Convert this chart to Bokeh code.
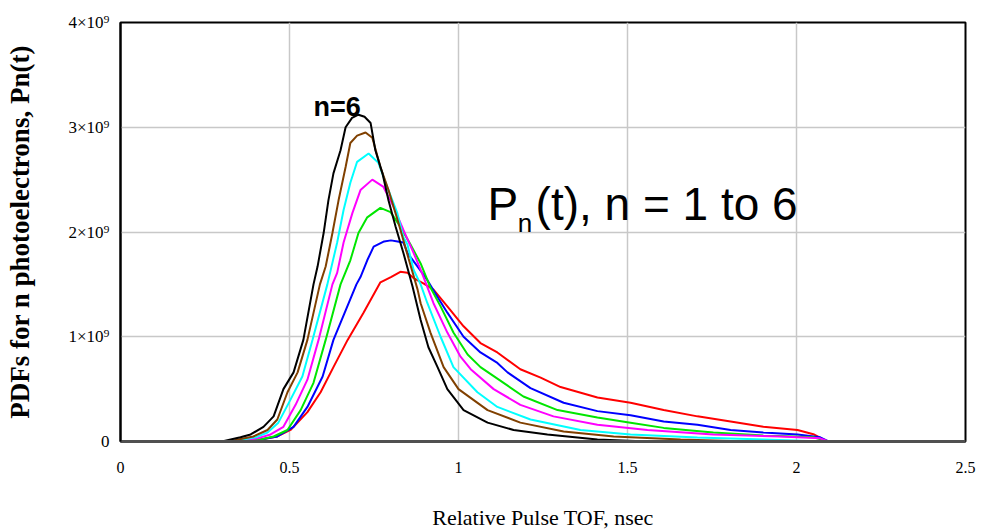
from bokeh.plotting import figure
from bokeh.models import Label, FixedTicker, Range1d
from bokeh.embed import file_html
from bokeh.resources import INLINE

# ---- data (y in units of 1e9) ----
SCALE = 1e9

red_t = [0, 0.37, 0.414, 0.464, 0.503, 0.553, 0.592, 0.630, 0.672, 0.719, 0.769, 0.80, 0.828, 0.849, 0.867, 0.896, 0.926, 0.967, 1.015, 1.065, 1.115, 1.183, 1.243, 1.302, 1.411, 1.509, 1.607, 1.707, 1.805, 1.902, 2.003, 2.05, 2.09]
red_y = [0, 0, 0.02, 0.048, 0.11, 0.28, 0.47, 0.71, 0.97, 1.23, 1.52, 1.57, 1.62, 1.61, 1.56, 1.51, 1.45, 1.29, 1.10, 0.94, 0.85, 0.69, 0.61, 0.52, 0.42, 0.37, 0.30, 0.24, 0.19, 0.14, 0.11, 0.07, 0]

blue_t = [0, 0.35, 0.414, 0.464, 0.512, 0.553, 0.598, 0.630, 0.698, 0.710, 0.730, 0.749, 0.78, 0.80, 0.82, 0.837, 0.849, 0.879, 0.908, 0.938, 0.967, 1.015, 1.065, 1.115, 1.145, 1.213, 1.311, 1.411, 1.509, 1.607, 1.707, 1.805, 1.902, 2.003, 2.07, 2.095]
blue_y = [0, 0, 0.02, 0.048, 0.14, 0.33, 0.62, 0.97, 1.50, 1.57, 1.73, 1.86, 1.91, 1.92, 1.91, 1.90, 1.80, 1.67, 1.54, 1.38, 1.23, 1.0, 0.85, 0.75, 0.66, 0.51, 0.37, 0.29, 0.25, 0.19, 0.16, 0.11, 0.085, 0.067, 0.04, 0]

green_t = [0, 0.35, 0.414, 0.453, 0.494, 0.533, 0.571, 0.607, 0.651, 0.680, 0.704, 0.730, 0.769, 0.799, 0.828, 0.858, 0.888, 0.917, 0.947, 0.985, 1.027, 1.065, 1.115, 1.192, 1.293, 1.411, 1.509, 1.607, 1.754, 1.902, 2.05, 2.095]
green_y = [0, 0, 0.02, 0.048, 0.11, 0.30, 0.56, 0.97, 1.50, 1.73, 1.99, 2.14, 2.23, 2.19, 2.05, 1.88, 1.70, 1.47, 1.29, 1.04, 0.83, 0.71, 0.60, 0.43, 0.30, 0.23, 0.18, 0.13, 0.086, 0.057, 0.04, 0]

magenta_t = [0, 0.34, 0.405, 0.444, 0.482, 0.518, 0.553, 0.586, 0.627, 0.641, 0.660, 0.686, 0.710, 0.745, 0.778, 0.808, 0.837, 0.867, 0.888, 0.926, 0.967, 1.006, 1.036, 1.104, 1.183, 1.281, 1.411, 1.559, 1.754, 1.953, 2.07, 2.095]
magenta_y = [0, 0, 0.03, 0.067, 0.14, 0.35, 0.59, 0.97, 1.50, 1.61, 1.90, 2.18, 2.40, 2.50, 2.43, 2.24, 2.02, 1.80, 1.64, 1.32, 1.04, 0.81, 0.69, 0.50, 0.35, 0.24, 0.16, 0.11, 0.067, 0.048, 0.03, 0]

cyan_t = [0, 0.33, 0.40, 0.435, 0.467, 0.503, 0.538, 0.568, 0.612, 0.641, 0.66, 0.68, 0.70, 0.734, 0.763, 0.789, 0.819, 0.837, 0.849, 0.867, 0.888, 0.908, 0.947, 0.985, 1.056, 1.115, 1.213, 1.361, 1.509, 1.707, 1.902, 2.08]
cyan_y = [0, 0, 0.04, 0.086, 0.18, 0.40, 0.62, 0.97, 1.50, 1.90, 2.21, 2.47, 2.67, 2.75, 2.66, 2.43, 2.18, 1.95, 1.88, 1.64, 1.50, 1.32, 1.0, 0.71, 0.47, 0.33, 0.21, 0.11, 0.067, 0.038, 0.02, 0]

brown_t = [0, 0.32, 0.393, 0.435, 0.464, 0.494, 0.524, 0.553, 0.59, 0.607, 0.627, 0.645, 0.666, 0.680, 0.700, 0.725, 0.745, 0.769, 0.793, 0.822, 0.852, 0.879, 0.888, 0.917, 0.956, 1.0, 1.086, 1.183, 1.311, 1.459, 1.657, 1.855, 2.1]
brown_y = [0, 0, 0.048, 0.11, 0.21, 0.47, 0.66, 0.97, 1.50, 1.67, 1.99, 2.30, 2.62, 2.85, 2.92, 2.95, 2.90, 2.62, 2.40, 2.09, 1.75, 1.45, 1.32, 1.04, 0.71, 0.50, 0.30, 0.18, 0.095, 0.048, 0.02, 0, 0]

black_t = [0, 0.30, 0.355, 0.385, 0.423, 0.453, 0.482, 0.512, 0.541, 0.571, 0.583, 0.601, 0.615, 0.630, 0.651, 0.666, 0.685, 0.704, 0.722, 0.740, 0.754, 0.775, 0.793, 0.814, 0.837, 0.864, 0.888, 0.911, 0.938, 0.967, 1.015, 1.086, 1.163, 1.263, 1.411, 1.56, 2.1]
black_y = [0, 0, 0.04, 0.067, 0.14, 0.24, 0.50, 0.66, 0.97, 1.50, 1.67, 1.99, 2.30, 2.56, 2.78, 3.0, 3.09, 3.12, 3.10, 3.04, 2.78, 2.56, 2.30, 2.05, 1.80, 1.48, 1.16, 0.90, 0.71, 0.50, 0.30, 0.18, 0.11, 0.067, 0.02, 0, 0]

x_ticks = [0, 0.5, 1, 1.5, 2, 2.5]
x_tick_labels = ["0", "0.5", "1", "1.5", "2", "2.5"]
y_ticks = [0, 1e9, 2e9, 3e9, 4e9]
y_tick_labels = ["0", "1×10⁹", "2×10⁹", "3×10⁹", "4×10⁹"]

series = [
    (red_t, red_y, "#ff0000"),
    (blue_t, blue_y, "#0000ff"),
    (green_t, green_y, "#00e600"),
    (magenta_t, magenta_y, "#ff00ff"),
    (cyan_t, cyan_y, "#00ffff"),
    (brown_t, brown_y, "#804000"),
    (black_t, black_y, "#000000"),
]

p = figure(width=988, height=532, x_range=Range1d(0, 2.5), y_range=Range1d(0, 4e9),
           output_backend="svg", toolbar_location=None,
           min_border_left=120, min_border_right=23, min_border_top=22, min_border_bottom=90)

for t, y, c in series:
    p.line(t, [v * SCALE for v in y], line_color=c, line_width=2)

SERIF = "Liberation Serif"
p.xaxis.ticker = FixedTicker(ticks=x_ticks)
p.yaxis.ticker = FixedTicker(ticks=y_ticks)
p.xaxis.major_label_overrides = {t: l for t, l in zip(x_ticks, x_tick_labels)}
p.yaxis.major_label_overrides = {t: l for t, l in zip(y_ticks, y_tick_labels)}
for ax in (p.xaxis, p.yaxis):
    ax.major_tick_line_color = None
    ax.minor_tick_line_color = None
    ax.major_label_text_font = SERIF
    ax.major_label_text_color = "#000000"
    ax.axis_label_text_font = SERIF
    ax.axis_label_text_color = "#000000"
    ax.axis_label_text_font_style = "normal"

p.xaxis.major_label_text_font_size = "16px"
p.yaxis.major_label_text_font_size = "17px"
p.xaxis.major_label_standoff = 14
p.yaxis.major_label_standoff = 5
p.xaxis.axis_label = "Relative Pulse TOF, nsec"
p.xaxis.axis_label_text_font_size = "22px"
p.xaxis.axis_label_standoff = 29
p.yaxis.axis_label = "PDFs for n photoelectrons, Pn(t)"
p.yaxis.axis_label_text_font_size = "27px"
p.yaxis.axis_label_text_font_style = "bold"
p.yaxis.axis_label_standoff = 30

p.xaxis.axis_line_color = "#505050"
p.xaxis.axis_line_width = 3
p.yaxis.axis_line_color = "#000000"
p.yaxis.axis_line_width = 2
p.outline_line_color = "#000000"
p.outline_line_width = 2

p.xgrid.grid_line_color = "#c8c8c8"
p.ygrid.grid_line_color = "#c8c8c8"
p.xgrid.grid_line_width = 1.5
p.ygrid.grid_line_width = 1.5

SANS = "Liberation Sans"
p.add_layout(Label(x=0.571, y=3.05e9, text="n=6", text_font=SANS, text_font_style="bold",
                   text_font_size="27px", text_color="#000000"))
p.add_layout(Label(x=1.086, y=2.02e9, text="P", text_font=SANS,
                   text_font_size="46px", text_color="#000000"))
p.add_layout(Label(x=1.175, y=1.94e9, text="n", text_font=SANS,
                   text_font_size="26px", text_color="#000000"))
p.add_layout(Label(x=1.228, y=2.02e9, text="(t), n = 1 to 6", text_font=SANS,
                   text_font_size="46px", text_color="#000000"))

open("out.html", "w").write(file_html(p, INLINE))
